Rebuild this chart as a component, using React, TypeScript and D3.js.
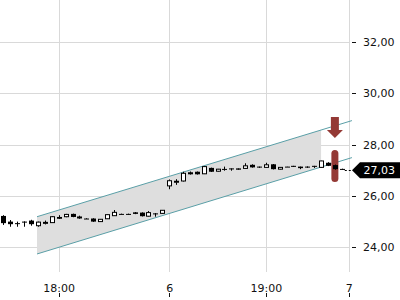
import React from "react";
import * as d3 from "d3";

// ---- data ----
const opens = [25.22, 25.0, 24.94, 25.0, 25.04, 24.84, 24.96, 24.96, 25.18, 25.19, 25.3, 25.17, 25.12, 25.12, 25.0, 25.11, 25.23, 25.3, 25.3, 25.36, 25.35, 25.21, 25.32, 25.32,
  26.39, 26.56, 26.58, 26.92, 26.94, 26.86, 27.09, 26.96, 27.05, 27.07, 27.07, 27.07, 27.21, 27.14, 27.11, 27.23, 27.04, 27.14, 27.17, 27.14, 27.14, 27.17, 27.11, 27.29, 27.2, 27.05];
const highs = [25.25, 25.06, 25.0, 25.01, 25.07, 25.0, 25.04, 25.21, 25.25, 25.3, 25.31, 25.23, 25.13, 25.13, 25.1, 25.28, 25.45, 25.31, 25.31, 25.37, 25.36, 25.41, 25.33, 25.45,
  26.64, 26.65, 26.94, 26.95, 26.95, 27.15, 27.1, 27.05, 27.14, 27.07, 27.07, 27.27, 27.23, 27.14, 27.29, 27.24, 27.12, 27.14, 27.17, 27.14, 27.15, 27.17, 27.37, 27.31, 27.22, 27.06];
const lows = [24.87, 24.8, 24.8, 24.8, 24.84, 24.8, 24.89, 24.95, 25.1, 25.17, 25.17, 25.11, 25.1, 24.99, 24.99, 25.1, 25.22, 25.29, 25.27, 25.29, 25.2, 25.2, 25.19, 25.31,
  26.26, 26.43, 26.56, 26.83, 26.83, 26.85, 26.93, 26.95, 26.98, 26.98, 27.02, 27.06, 27.1, 27.09, 27.1, 27.03, 27.03, 27.13, 27.13, 27.04, 27.09, 27.09, 27.1, 27.16, 27.02, 27.02];
const closes = [24.94, 24.9, 24.93, 24.99, 24.9, 24.98, 24.97, 25.19, 25.11, 25.28, 25.18, 25.18, 25.11, 25.0, 25.09, 25.27, 25.36, 25.29, 25.3, 25.3, 25.21, 25.35, 25.31, 25.44,
  26.59, 26.57, 26.88, 26.84, 26.84, 27.14, 26.94, 27.04, 27.04, 27.06, 27.02, 27.17, 27.11, 27.13, 27.21, 27.04, 27.11, 27.13, 27.13, 27.08, 27.14, 27.13, 27.36, 27.17, 27.04, 27.03];

const xTickIdx = [8, 24, 38, 50];
const xTickLabels = ["18:00", "6", "19:00", "7"];
const yTicks = [24, 26, 28, 30, 32];
const yTickLabels = ["24,00", "26,00", "28,00", "30,00", "32,00"];

const channelIdx = [4.86, 50.47];
const channelUpper = [25.19, 28.93];
const channelLower = [23.74, 27.49];
const channelFillEndIdx = 46;

const lastPrice = 27.03;
const lastPriceLabel = "27,03";

const signalIdx = 48;
const arrowTop = 29.07;
const arrowNeck = 28.56;
const arrowTip = 28.25;
const pillTop = 27.79;
const pillBottom = 26.54;

export default function App() {
  const W = 400, H = 300;
  const plotRight = 349;
  const gridBottom = 272;
  const x = d3.scaleLinear().domain([0, 50]).range([3.46, 348.7]);
  const y = d3.scaleLinear().domain([24, 32]).range([247.3, 41.7]);
  const font = "DejaVu Sans";
  const red = "#943935";
  const teal = "#5a9fa7";

  const up = d3.scaleLinear().domain(channelIdx).range(channelUpper);
  const lo = d3.scaleLinear().domain(channelIdx).range(channelLower);
  const fillPts: [number, number][] = [
    [x(channelIdx[0]), y(up(channelIdx[0]))],
    [x(channelFillEndIdx), y(up(channelFillEndIdx))],
    [x(channelFillEndIdx), y(lo(channelFillEndIdx))],
    [x(channelIdx[0]), y(lo(channelIdx[0]))],
  ];
  const line = d3.line();

  const sx = x(signalIdx);
  const arrowPath = `M${sx - 4},${y(arrowTop)} L${sx + 4},${y(arrowTop)} L${sx + 4},${y(arrowNeck)} L${sx + 8},${y(arrowNeck)} L${sx},${y(arrowTip)} L${sx - 8},${y(arrowNeck)} L${sx - 4},${y(arrowNeck)} Z`;

  const py = y(lastPrice) + 0.8;
  const lastX = x(closes.length - 1);

  return (
    <div style={{ position: "fixed", left: 0, top: 0 }}>
      <svg width={W} height={H} style={{ display: "block", background: "#fff" }}>
        {/* grid */}
        {yTicks.map((t) => (
          <line key={"hy" + t} x1={0} x2={plotRight} y1={Math.round(y(t)) + 0.5} y2={Math.round(y(t)) + 0.5} stroke="#d9d9d9" strokeWidth={1} />
        ))}
        {xTickIdx.map((t) => (
          <line key={"vx" + t} x1={Math.round(x(t)) + 0.5} x2={Math.round(x(t)) + 0.5} y1={0} y2={gridBottom} stroke="#d9d9d9" strokeWidth={1} />
        ))}
        {/* channel */}
        <path d={line(fillPts) + "Z"} fill="#dedede" />
        <path d={line([[x(channelIdx[0]), y(channelUpper[0])], [x(channelIdx[1]), y(channelUpper[1])]]) || ""} stroke={teal} strokeWidth={1} fill="none" />
        <path d={line([[x(channelIdx[0]), y(channelLower[0])], [x(channelIdx[1]), y(channelLower[1])]]) || ""} stroke={teal} strokeWidth={1} fill="none" />
        {/* red signals */}
        <path d={arrowPath} fill={red} />
        <rect x={sx - 3.5} y={y(pillTop)} width={7} height={y(pillBottom) - y(pillTop)} rx={3.5} fill={red} />
        {/* candles */}
        {opens.map((o, i) => {
          const c = closes[i];
          const cx = Math.round(x(i));
          const top = Math.min(y(o), y(c));
          const bot = Math.max(y(o), y(c));
          const upC = c > o;
          const h = Math.max(1, bot - top);
          return (
            <g key={i}>
              <line x1={cx + 0.5} x2={cx + 0.5} y1={y(highs[i])} y2={y(lows[i])} stroke="#000" strokeWidth={1} />
              {upC ? (
                <rect x={cx - 1.5} y={top} width={4} height={Math.max(1, h)} fill="#fff" stroke="#000" strokeWidth={1} />
              ) : (
                <rect x={cx - 2} y={top} width={5} height={h} fill="#000" />
              )}
            </g>
          );
        })}
        {/* last price dotted line */}
        <line x1={lastX + 3} x2={352} y1={Math.round(py) + 0.5} y2={Math.round(py) + 0.5} stroke="#000" strokeWidth={1} strokeDasharray="2,2" />
        {/* y axis */}
        {yTicks.map((t, i) => (
          <g key={"yt" + t}>
            <line x1={352} x2={356} y1={Math.round(y(t)) + 0.5} y2={Math.round(y(t)) + 0.5} stroke="#111" strokeWidth={1} />
            <text x={363} y={y(t) + 4} fontFamily={font} fontSize={11} fill="#111">{yTickLabels[i]}</text>
          </g>
        ))}
        {/* price label */}
        <path d={`M352,${py} L360,${py - 8} L400,${py - 8} L400,${py + 8} L360,${py + 8} Z`} fill="#000" />
        <text x={363.5} y={py + 4} fontFamily={font} fontSize={11} fill="#fff">{lastPriceLabel}</text>
        {/* x axis */}
        {xTickIdx.map((t, i) => (
          <g key={"xt" + t}>
            <text x={x(t) + 0.5} y={291.5} textAnchor="middle" fontFamily={font} fontSize={11} fill="#111">{xTickLabels[i]}</text>
            <line x1={Math.round(x(t)) + 0.5} x2={Math.round(x(t)) + 0.5} y1={293} y2={297} stroke="#111" strokeWidth={1} />
          </g>
        ))}
      </svg>
    </div>
  );
}
